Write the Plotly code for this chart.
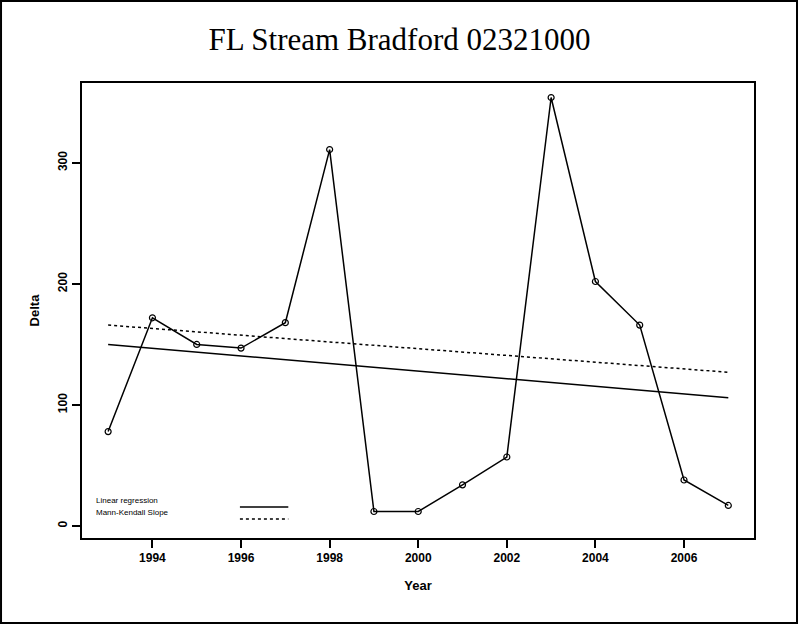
import plotly.graph_objects as go

years = [1993, 1994, 1995, 1996, 1997, 1998, 1999, 2000, 2001, 2002, 2003, 2004, 2005, 2006, 2007]
delta = [78, 172, 150, 147, 168, 311, 12, 12, 34, 57, 354, 202, 166, 38, 17]
reg_x = [1993, 2007]
reg_y = [150, 106]
mk_x = [1993, 2007]
mk_y = [166, 127]
x_ticks = [1994, 1996, 1998, 2000, 2002, 2004, 2006]
y_ticks = [0, 100, 200, 300]

fig = go.Figure()
fig.add_trace(go.Scatter(x=reg_x, y=reg_y, mode="lines",
                         line=dict(color="black", width=1.5), showlegend=False))
fig.add_trace(go.Scatter(x=mk_x, y=mk_y, mode="lines",
                         line=dict(color="black", width=1.5, dash="dot"), showlegend=False))
fig.add_trace(go.Scatter(x=years, y=delta, mode="lines+markers",
                         line=dict(color="black", width=1.5),
                         marker=dict(symbol="circle-open", size=6, color="black", line=dict(width=1.2)),
                         showlegend=False))

# legend text + samples (bottom-left, inside plot)
fig.add_annotation(x=0.018, y=0.068, xref="paper", yref="paper", text="Linear regression",
                   showarrow=False, xanchor="left", font=dict(family="Arial", size=8, color="black"))
fig.add_annotation(x=0.018, y=0.042, xref="paper", yref="paper", text="Mann-Kendall Slope",
                   showarrow=False, xanchor="left", font=dict(family="Arial", size=8, color="black"))
fig.add_shape(type="line", xref="paper", yref="paper", x0=0.235, x1=0.307, y0=0.068, y1=0.068,
              line=dict(color="black", width=1.5))
fig.add_shape(type="line", xref="paper", yref="paper", x0=0.235, x1=0.307, y0=0.042, y1=0.042,
              line=dict(color="black", width=1.5, dash="dot"))

# outer border
fig.add_shape(type="rect", xref="paper", yref="paper", x0=-0.1205, x1=1.064, y0=-0.187, y1=1.180,
              line=dict(color="black", width=2))

fig.update_layout(
    width=799, height=625,
    margin=dict(l=82, r=45, t=83, b=87),
    paper_bgcolor="white", plot_bgcolor="white",
    title=dict(text="FL Stream Bradford 02321000", x=0.5, xanchor="center", y=0.937, yanchor="middle",
               font=dict(family="Liberation Serif", size=31, color="black")),
    xaxis=dict(range=[1992.41, 2007.58], tickvals=x_ticks, ticks="outside", ticklen=8, tickwidth=1.5,
               tickcolor="black", showgrid=False, zeroline=False, showline=True, linecolor="black",
               linewidth=2, mirror=True,
               tickfont=dict(family="Arial", size=12, color="black", weight="bold"),
               title=dict(text="<b>Year</b>", font=dict(family="Arial", size=13, color="black"), standoff=16)),
    yaxis=dict(range=[-9.9, 366], tickvals=y_ticks, ticks="outside", ticklen=8, tickwidth=1.5,
               tickcolor="black", showgrid=False, zeroline=False, showline=True, linecolor="black",
               linewidth=2, mirror=True, tickangle=-90,
               tickfont=dict(family="Arial", size=12, color="black", weight="bold"),
               title=dict(text="<b>Delta</b>", font=dict(family="Arial", size=13, color="black"), standoff=14)),
)

fig.write_html("out.html", config={"displayModeBar": False},
               post_script="document.body.style.margin='0';")
